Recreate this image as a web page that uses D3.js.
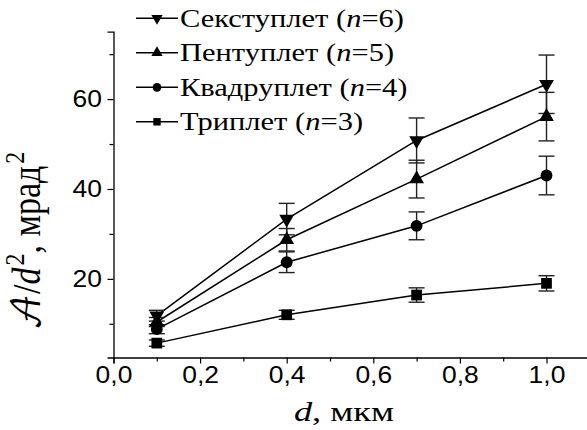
<!DOCTYPE html>
<html>
<head>
<meta charset="utf-8">
<script src="https://cdn.jsdelivr.net/npm/d3@7"></script>
<style>
  body { margin: 0; background: #fff; }
  svg { display: block; }
</style>
</head>
<body>
<script>
// values
const thickness = [0.1, 0.4, 0.7, 1.0];
const sextuplet = [11.8, 33.3, 50.8, 63.3];
const sextupletErr = [1.2, 3.5, 5.0, 6.5];
const pentuplet = [10.4, 28.7, 42.2, 56.1];
const pentupletErr = [1.0, 2.5, 4.2, 5.4];
const quadruplet = [8.8, 23.7, 31.8, 43.0];
const quadrupletErr = [1.0, 2.3, 3.1, 4.3];
const triplet = [5.7, 12.0, 16.4, 19.0];
const tripletErr = [0.7, 1.0, 1.6, 1.7];

const seriesNames = ["Секступлет", "Пентуплет", "Квадруплет", "Триплет"];
const seriesN = [6, 5, 4, 3];
const xTicks = [0, 0.2, 0.4, 0.6, 0.8, 1.0];
const yTicks = [20, 40, 60];

const width = 587, height = 430;
const svg = d3.select("body").append("svg")
  .attr("width", width)
  .attr("height", height);

const x = d3.scaleLinear().domain([0, 1.1]).range([113.5, 589.8]);
const y = d3.scaleLinear().domain([2.5, 75]).range([357.5, 31.7]);

// symbols
const triUp = d3.symbol().type(d3.symbolTriangle).size(95);
const circ = d3.symbol().type(d3.symbolCircle).size(110);
const sq = d3.symbol().type(d3.symbolSquare).size(115);

const series = [
  { values: sextuplet, err: sextupletErr, sym: triUp, rot: 180 },
  { values: pentuplet, err: pentupletErr, sym: triUp, rot: 0 },
  { values: quadruplet, err: quadrupletErr, sym: circ, rot: 0 },
  { values: triplet, err: tripletErr, sym: sq, rot: 0 }
];

// axes
svg.append("g")
  .attr("transform", `translate(0, ${y.range()[0]})`)
  .call(d3.axisBottom(x).tickValues(xTicks).tickSize(6).tickPadding(3)
    .tickFormat(d => d3.format(".1f")(d).replace(".", ",")));
svg.append("g")
  .attr("transform", `translate(0, ${y.range()[0]})`)
  .call(d3.axisBottom(x).tickValues([0.1, 0.3, 0.5, 0.7, 0.9]).tickSize(4).tickFormat(""))
  .select(".domain").remove();

svg.append("g")
  .attr("transform", `translate(${x.range()[0]}, 0)`)
  .call(d3.axisLeft(y).tickValues(yTicks).tickSize(6).tickPadding(4));
svg.append("g")
  .attr("transform", `translate(${x.range()[0]}, 0)`)
  .call(d3.axisLeft(y).tickValues([10, 30, 50, 70]).tickSize(4).tickFormat(""))
  .select(".domain").remove();

svg.selectAll(".domain").attr("stroke", "#000").attr("stroke-width", 1.3);
svg.selectAll(".tick line").attr("stroke", "#000").attr("stroke-width", 1.2);
// the picture is a little wider than tall: stretch the labels
svg.selectAll(".tick text")
  .attr("font-family", "Liberation Sans, Arial, sans-serif")
  .attr("font-size", 23)
  .attr("fill", "#000")
  .attr("transform", "scale(1.15, 1)");

// lines
const line = d3.line()
  .x((d, i) => x(thickness[i]))
  .y(d => y(d));

const plot = svg.append("g");
series.forEach(s => {
  plot.append("path")
    .datum(s.values)
    .attr("fill", "none")
    .attr("stroke", "#000")
    .attr("stroke-width", 1.5)
    .attr("d", line);
});

// error bars
series.forEach(s => {
  const g = plot.append("g").attr("stroke", "#222").attr("stroke-width", 1.4);
  s.values.forEach((v, i) => {
    const cx = x(thickness[i]);
    g.append("line")
      .attr("x1", cx).attr("x2", cx)
      .attr("y1", y(v - s.err[i])).attr("y2", y(v + s.err[i]));
    [v - s.err[i], v + s.err[i]].forEach(e => {
      g.append("line")
        .attr("x1", cx - 8).attr("x2", cx + 8)
        .attr("y1", y(e)).attr("y2", y(e));
    });
  });
});

// markers
series.forEach(s => {
  plot.append("g").selectAll("path")
    .data(s.values)
    .join("path")
    .attr("d", s.sym)
    .attr("fill", "#000")
    .attr("transform", (d, i) => `translate(${x(thickness[i])}, ${y(d)}) rotate(${s.rot})`);
});

// legend
const legend = svg.append("g").attr("transform", "translate(136, 0)");
const legendSym = [
  d3.symbol().type(d3.symbolTriangle).size(55),
  d3.symbol().type(d3.symbolTriangle).size(55),
  d3.symbol().type(d3.symbolCircle).size(60),
  d3.symbol().type(d3.symbolSquare).size(55)
];
seriesNames.forEach((name, i) => {
  const row = legend.append("g").attr("transform", `translate(0, ${18.3 + i * 34.5})`);
  row.append("line")
    .attr("x1", 0).attr("x2", 42)
    .attr("stroke", "#000").attr("stroke-width", 1.5);
  row.append("path")
    .attr("d", legendSym[i])
    .attr("fill", "#000")
    .attr("transform", `translate(21, 0) rotate(${series[i].rot})`);
  const t = row.append("text")
    .attr("transform", "translate(44, 8.4) scale(1.22, 1)")
    .attr("font-family", "Liberation Serif, Times New Roman, serif")
    .attr("font-size", 25)
    .attr("fill", "#000");
  t.append("tspan").text(name + " (");
  t.append("tspan").attr("font-style", "italic").text("n");
  t.append("tspan").text("=" + seriesN[i] + ")");
});

// axis titles
const xTitle = svg.append("text")
  .attr("transform", "translate(344, 421) scale(1.3, 1)")
  .attr("text-anchor", "middle")
  .attr("font-family", "Liberation Serif, Times New Roman, serif")
  .attr("font-size", 28)
  .attr("fill", "#000");
xTitle.append("tspan").attr("font-style", "italic").text("d");
xTitle.append("tspan").text(", мкм");

const yTitle = svg.append("text")
  .attr("transform", "translate(40, 241) rotate(-90) scale(1, 1.15)")
  .attr("text-anchor", "middle")
  .attr("font-family", "Liberation Serif, Times New Roman, serif")
  .attr("font-size", 34)
  .attr("fill", "#000");
yTitle.append("tspan").attr("font-family", "DejaVu Math TeX Gyre, DejaVu Sans, serif").text("𝒜");
yTitle.append("tspan").text("/");
yTitle.append("tspan").attr("font-style", "italic").text("d");
yTitle.append("tspan").attr("font-size", 24).attr("dy", -14).attr("dx", 2).text("2");
yTitle.append("tspan").attr("dy", 14).text(", мрад");
yTitle.append("tspan").attr("font-size", 24).attr("dy", -14).attr("dx", 2).text("2");
</script>
</body>
</html>
